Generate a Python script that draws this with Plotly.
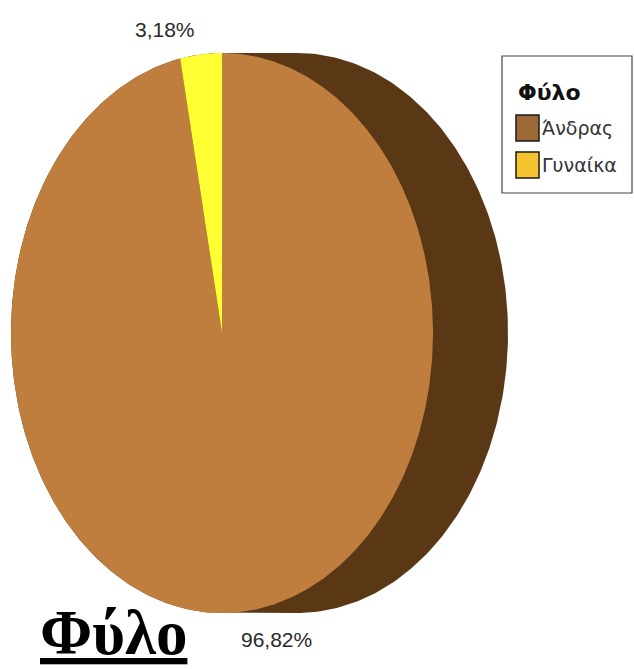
import numpy as np
import plotly.graph_objects as go

# ---- data ----
categories = ["Άνδρας", "Γυναίκα"]
values = [96.82, 3.18]
slice_colors = ["#BF7E3D", "#FFFF33"]
legend_colors = ["#9C6936", "#F6C42E"]
side_color = "#5A3816"
legend_title = "Φύλο"
chart_title = "Φύλο"

# ---- geometry (pixel space of the page) ----
W, H = 634, 669
cx, cy, a, b, depth = 222, 333, 211, 280, 75


def ell(theta_deg, shift=0.0):
    t = np.radians(theta_deg)
    return cx + shift + a * np.sin(t), cy - b * np.cos(t)


fig = go.Figure()

# side (thickness) of the pie
th_r = np.linspace(0, 180, 200)
th_l = np.linspace(180, 360, 200)
xr, yr = ell(th_r, depth)
xl, yl = ell(th_l)
fig.add_trace(go.Scatter(
    x=np.concatenate([xr, xl]), y=np.concatenate([yr, yl]),
    fill="toself", fillcolor=side_color, mode="lines", line=dict(width=0),
    hoverinfo="skip", showlegend=False))

# slices, clockwise from 12 o'clock
total = sum(values)
start = 0.0
for cat, v, col in zip(categories, values, slice_colors):
    span = 360.0 * v / total
    th = np.linspace(start, start + span, max(4, int(span * 2)))
    ex, ey = ell(th)
    fig.add_trace(go.Scatter(
        x=np.concatenate([[cx], ex, [cx]]), y=np.concatenate([[cy], ey, [cy]]),
        fill="toself", fillcolor=col, mode="lines", line=dict(width=0),
        name=cat, hoverinfo="name", showlegend=False))
    start += span

# percentage labels
label_pos = [(276, 639), (165, 29)]
for v, (lx, ly) in zip(values, label_pos):
    fig.add_annotation(x=lx, y=ly, text=f"{v:.2f}".replace(".", ",") + "%",
                       showarrow=False, xanchor="center", yanchor="middle",
                       font=dict(family="Liberation Sans, Arial", size=21, color="#2a2a2a"))

# legend box
fig.add_shape(type="rect", x0=502, y0=56, x1=632, y1=193,
              line=dict(color="#444444", width=1.2), fillcolor="white")
fig.add_annotation(x=516, y=92, text=f"<b>{legend_title}</b>", showarrow=False,
                   xanchor="left", yanchor="middle",
                   font=dict(family="DejaVu Sans, Liberation Sans", size=22, color="#111111"))
row_y = [128, 165]
for cat, col, ry in zip(categories, legend_colors, row_y):
    fig.add_shape(type="rect", x0=516, y0=ry - 13, x1=539, y1=ry + 13,
                  line=dict(color="#1a1a1a", width=1.5), fillcolor=col)
    fig.add_annotation(x=540, y=ry, text=cat, showarrow=False,
                       xanchor="left", yanchor="middle",
                       font=dict(family="DejaVu Sans", size=19, color="#333333"))

# chart title (underlined)
fig.add_annotation(x=113, y=633, text=f"<b>{chart_title}</b>", showarrow=False,
                   xanchor="center", yanchor="middle",
                   font=dict(family="Liberation Serif, Times New Roman", size=63,
                             color="black", lineposition="under"))

fig.update_xaxes(range=[0, W], visible=False, fixedrange=True)
fig.update_yaxes(range=[H, 0], visible=False, fixedrange=True)
fig.update_layout(width=W, height=H, margin=dict(l=0, r=0, t=0, b=0),
                  plot_bgcolor="white", paper_bgcolor="white")

fig.write_html("out.html", config={"displayModeBar": False},
               post_script="document.body.style.margin='0';document.body.style.overflow='hidden';")
